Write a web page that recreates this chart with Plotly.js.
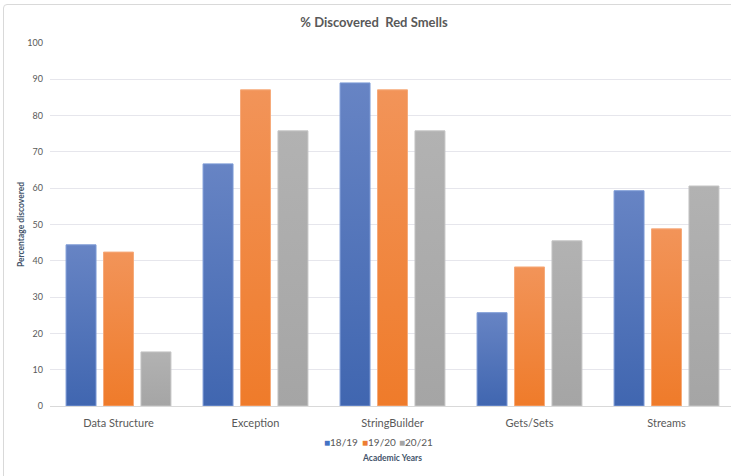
<!DOCTYPE html>
<html>
<head>
<meta charset="utf-8">
<script src="https://cdn.plot.ly/plotly-3.0.1.min.js"></script>
<style>
  html, body { margin: 0; padding: 0; width: 731px; height: 476px; overflow: hidden; background: #fff; }
  #chart { position: absolute; left: 0; top: 0; }
  #frame { position: absolute; left: 3px; top: 4px; width: 745px; height: 490px;
           border: 1px solid #d9d9d9; border-radius: 4px; pointer-events: none; }
</style>
</head>
<body>
<div id="chart"></div>
<div id="frame"></div>
<script>
// Smell categories and the share discovered per academic year (%)
const categories = ['Data Structure', 'Exception', 'StringBuilder', 'Gets/Sets', 'Streams'];
const seriesNames = ['18/19', '19/20', '20/21'];
const y1819 = [44.4, 66.7, 89.0, 25.7, 59.3];
const y1920 = [42.4, 87.1, 87.1, 38.3, 48.8];
const y2021 = [14.9, 75.8, 75.8, 45.5, 60.6];
const yTicks = [0, 10, 20, 30, 40, 50, 60, 70, 80, 90, 100];

// Per-series colours: solid base plus top/bottom gradient stops
const baseColors = ['#4472C4', '#ED7D31', '#A5A5A5'];
const gradTop = ['#6784C4', '#F29459', '#B2B2B2'];
const gradBottom = ['#4066B0', '#EF7B2A', '#A5A5A5'];
const edgeColors = ['#7C9AD6', '#F6AA7A', '#C4C4C4'];

const seriesValues = [y1819, y1920, y2021];
const textColor = '#595959';
const axisTitleColor = '#44546A';
const font = 'Lato, "Open Sans", sans-serif';

const traces = seriesValues.map((vals, i) => ({
  type: 'bar',
  name: seriesNames[i],
  x: categories,
  y: vals,
  marker: { color: baseColors[i], line: { color: edgeColors[i], width: 1 } },
  hoverinfo: 'x+y+name'
}));

// Compact legend: one small entry per series below the category labels
const plotLeft = 50, plotWidth = 685, plotHeight = 363;
const legendStart = 322, legendPitch = 37.5;
const legendEntries = seriesNames.map((n, i) => ({
  text: `<span style="color:${baseColors[i]}">■</span>${n}`,
  xref: 'paper', yref: 'paper',
  x: (legendStart + i * legendPitch - plotLeft) / plotWidth,
  y: -36 / plotHeight,
  xanchor: 'left', yanchor: 'middle',
  showarrow: false,
  font: { family: font, size: 10, color: textColor }
}));

const layout = {
  width: 745,
  height: 476,
  margin: { l: plotLeft, r: 10, t: 43, b: 70 },
  paper_bgcolor: 'rgba(0,0,0,0)',
  plot_bgcolor: '#ffffff',
  font: { family: font, color: textColor },
  showlegend: false,
  barmode: 'group',
  bargap: 0.18,
  bargroupgap: 0.2,
  title: {
    text: '% Discovered  Red Smells',
    font: { family: font, size: 13, color: textColor, weight: 'bold' },
    x: 374 / 745, xref: 'container', xanchor: 'center',
    y: 1 - 22 / 476, yref: 'container', yanchor: 'middle'
  },
  xaxis: {
    type: 'category',
    showgrid: false,
    showline: true,
    linecolor: '#D9D9D9',
    linewidth: 1,
    ticks: '',
    ticklabelstandoff: 7,
    tickfont: { family: font, size: 11, color: textColor },
    title: {
      text: 'Academic Years',
      font: { family: font, size: 8.5, color: axisTitleColor, weight: 'bold' },
      standoff: 26
    },
    automargin: false
  },
  yaxis: {
    range: [0, 100],
    tickvals: yTicks,
    ticktext: yTicks.map(String),
    showgrid: true,
    gridcolor: '#E6E6EC',
    gridwidth: 1,
    zeroline: false,
    showline: false,
    ticks: '',
    ticklabelstandoff: 6,
    tickfont: { family: font, size: 9, color: textColor },
    title: {
      text: 'Percentage discovered',
      font: { family: font, size: 8.5, color: axisTitleColor, weight: 'bold' },
      standoff: 1
    },
    automargin: false
  },
  annotations: legendEntries
};

Plotly.newPlot('chart', traces, layout, { displayModeBar: false, staticPlot: true }).then(gd => {
  // Vertical light-to-dark shading on each bar, one gradient per series
  const svg = gd.querySelector('svg.main-svg');
  const ns = 'http://www.w3.org/2000/svg';
  let defs = svg.querySelector('defs');
  if (!defs) { defs = document.createElementNS(ns, 'defs'); svg.insertBefore(defs, svg.firstChild); }
  seriesNames.forEach((n, i) => {
    const g = document.createElementNS(ns, 'linearGradient');
    g.setAttribute('id', 'barShade' + i);
    g.setAttribute('x1', '0'); g.setAttribute('y1', '0');
    g.setAttribute('x2', '0'); g.setAttribute('y2', '1');
    [[0, gradTop[i]], [1, gradBottom[i]]].forEach(([off, col]) => {
      const s = document.createElementNS(ns, 'stop');
      s.setAttribute('offset', off);
      s.setAttribute('stop-color', col);
      g.appendChild(s);
    });
    defs.appendChild(g);
  });
  gd.querySelectorAll('.barlayer .trace').forEach((tr, i) => {
    tr.querySelectorAll('path').forEach(p => { p.style.fill = `url(#barShade${i})`; });
  });
});
</script>
</body>
</html>
